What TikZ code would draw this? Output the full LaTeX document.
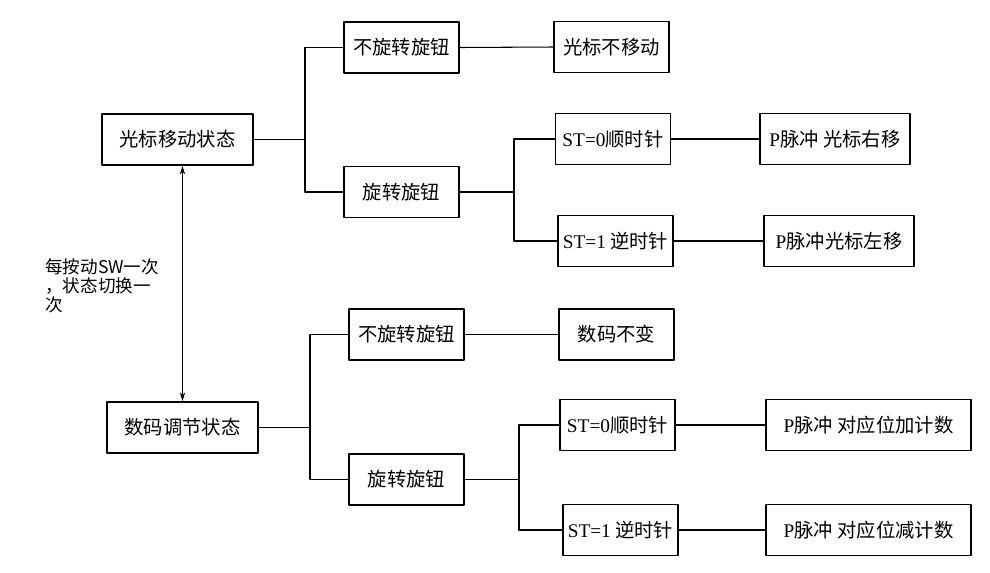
\documentclass[tikz,border=0pt]{standalone}
\usepackage{fontspec}
\setmainfont{Liberation Serif}
\newfontfamily\cjk{Noto Sans CJK SC}
\usetikzlibrary{arrows.meta}

\begin{document}
\begin{tikzpicture}[x=0.02cm,y=-0.02cm,line cap=round,line join=round,
  box/.style={draw,line width=0.9pt,minimum height=1.02cm,inner sep=0pt,
    font=\cjk\fontsize{11}{13}\selectfont},
  link/.style={line width=0.6pt}]
  \useasboundingbox (0,0) rectangle (990,572);
  \node[box,minimum width=3.02cm] (A1) at (177.5,139.5) {光标移动状态};
  \node[box,minimum width=2.3cm] (B1) at (401.5,47.5) {不旋转旋钮};
  \node[box,minimum width=2.3cm] (B2) at (401.5,192) {旋转旋钮};
  \node[box,minimum width=2.3cm] (C1) at (611.5,47) {光标不移动};
  \node[box,minimum width=2.3cm] (D1) at (613,139) {{\rmfamily ST=0}顺时针};
  \node[box,minimum width=2.3cm] (D2) at (615.5,241) {{\rmfamily ST=1} 逆时针};
  \node[box,minimum width=3.0cm] (E1) at (835,139) {{\rmfamily P}脉冲 光标右移};
  \node[box,minimum width=3.0cm] (E2) at (839,241) {{\rmfamily P}脉冲光标左移};
  \node[box,minimum width=3.02cm] (A2) at (182.5,427.5) {数码调节状态};
  \node[box,minimum width=2.3cm] (B3) at (406.5,334.5) {不旋转旋钮};
  \node[box,minimum width=2.3cm] (B4) at (406.5,479.5) {旋转旋钮};
  \node[box,minimum width=2.3cm] (C2) at (616.5,334.5) {数码不变};
  \node[box,minimum width=2.3cm] (D3) at (617.5,425) {{\rmfamily ST=0}顺时针};
  \node[box,minimum width=2.3cm] (D4) at (620.5,530) {{\rmfamily ST=1} 逆时针};
  \node[box,minimum width=4.1cm] (E3) at (868.5,425) {{\rmfamily P}脉冲 对应位加计数};
  \node[box,minimum width=4.1cm] (E4) at (868.5,530) {{\rmfamily P}脉冲 对应位减计数};
  \node[anchor=north west,align=left,inner sep=0pt,
    font=\cjk\fontsize{10}{11}\selectfont] (note) at (45,258)
    {每按动SW一次\\，状态切换一\\次};
  \coordinate (j1) at (305,139.5);
  \coordinate (j2) at (514,192);
  \coordinate (j3) at (310,427.5);
  \coordinate (j4) at (519,479.5);
  \draw[link] (A1.east) -- (j1);
  \draw[link] (B1.west) -| (j1) |- (B2.west);
  \draw[link] (B1.east) -- (C1.west);
  \draw[link] (B2.east) -- (j2);
  \draw[link] (D1.west) -| (j2) |- (D2.west);
  \draw[link] (D1.east) -- (E1.west);
  \draw[link] (D2.east) -- (E2.west);
  \draw[link] (A2.east) -- (j3);
  \draw[link] (B3.west) -| (j3) |- (B4.west);
  \draw[link] (B3.east) -- (C2.west);
  \draw[link] (B4.east) -- (j4);
  \draw[link] (D3.west) -| (j4) |- (D4.west);
  \draw[link] (D3.east) -- (E3.west);
  \draw[link] (D4.east) -- (E4.west);
  \draw[link,{Stealth[length=5pt,width=3pt]}-{Stealth[length=5pt,width=3pt]}]
    (A1.south -| A2.north) -- (A2.north);
\end{tikzpicture}
\end{document}
